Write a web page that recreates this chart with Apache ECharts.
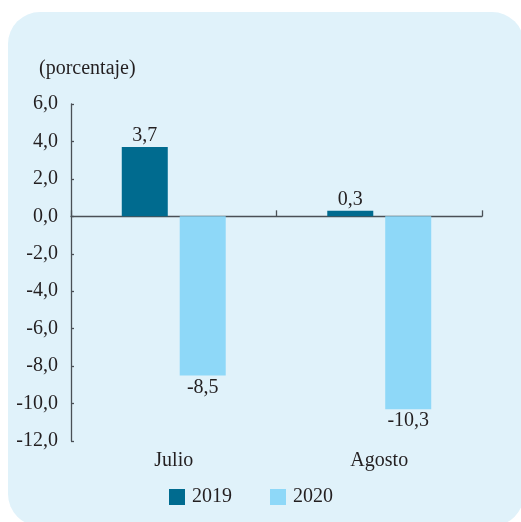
<!DOCTYPE html>
<html>
<head>
<meta charset="utf-8">
<script src="https://cdn.jsdelivr.net/npm/echarts@6/dist/echarts.min.js"></script>
<style>
  html, body { margin: 0; padding: 0; background: #fff; }
  #chart { width: 521px; height: 522px; }
</style>
</head>
<body>
<div id="chart"></div>
<script>
var categories = ['Julio', 'Agosto'];
var values2019 = [3.7, 0.3];
var values2020 = [-8.5, -10.3];
var seriesNames = ['2019', '2020'];

var textColor = '#231f20';
var axisColor = '#4a5056';
var fontFamily = '"Liberation Serif", "DejaVu Serif", serif';
var fs = 20;

function fmt(v) {
  return v.toFixed(1).replace('.', ',');
}

var chart = echarts.init(document.getElementById('chart'));

chart.setOption({
  backgroundColor: '#fff',
  animation: false,
  textStyle: { fontFamily: fontFamily, color: textColor },
  graphic: [
    {
      type: 'rect',
      left: 8, top: 12,
      shape: { width: 516, height: 514, r: 32 },
      style: { fill: '#e0f2fa' },
      z: -10
    },
    {
      type: 'text',
      left: 39, top: 59,
      style: { text: '(porcentaje)', font: fs + 'px ' + fontFamily, fill: textColor }
    }
  ],
  grid: { left: 71, right: 39, top: 104, bottom: 81 },
  legend: {
    bottom: 10,
    left: 164,
    itemWidth: 16,
    itemHeight: 16,
    itemGap: 38,
    icon: 'rect',
    data: seriesNames,
    textStyle: { fontSize: fs, color: textColor, fontFamily: fontFamily, padding: [0, 0, 0, 2] }
  },
  xAxis: [
    {
      type: 'category',
      data: categories,
      axisLine: { onZero: true, lineStyle: { color: axisColor, width: 1.3 } },
      axisTick: { show: true, inside: true, length: 6, lineStyle: { color: axisColor, width: 1.3 } },
      axisLabel: { show: false }
    },
    {
      type: 'category',
      data: categories,
      position: 'bottom',
      axisLine: { show: false },
      axisTick: { show: false },
      axisLabel: { margin: 10, fontSize: fs, color: textColor, fontFamily: fontFamily }
    }
  ],
  yAxis: {
    type: 'value',
    min: -12,
    max: 6,
    interval: 2,
    axisLine: { show: true, lineStyle: { color: axisColor, width: 1.3 } },
    axisTick: { show: true, inside: true, length: 3, lineStyle: { color: axisColor, width: 1.3 } },
    splitLine: { show: false },
    axisLabel: {
      margin: 13,
      fontSize: fs,
      color: textColor,
      fontFamily: fontFamily,
      formatter: function (v) { return fmt(v); }
    }
  },
  series: [
    {
      name: seriesNames[0],
      type: 'bar',
      data: values2019,
      barWidth: 46,
      barGap: '26%',
      itemStyle: { color: '#006b8f' },
      label: {
        show: true,
        position: 'top',
        distance: 1,
        fontSize: fs,
        color: textColor,
        fontFamily: fontFamily,
        formatter: function (p) { return fmt(p.value); }
      }
    },
    {
      name: seriesNames[1],
      type: 'bar',
      data: values2020,
      barWidth: 46,
      itemStyle: { color: '#8ed8f8' },
      label: {
        show: true,
        position: 'bottom',
        distance: 2,
        fontSize: fs,
        color: textColor,
        fontFamily: fontFamily,
        formatter: function (p) { return fmt(p.value); }
      }
    }
  ]
});
</script>
</body>
</html>
